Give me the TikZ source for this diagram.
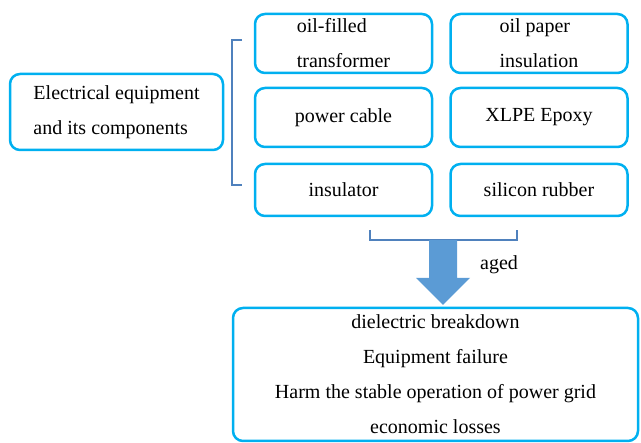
\documentclass[tikz,border=0pt]{standalone}
\usepackage{fontspec}
\setmainfont{Liberation Serif}
\definecolor{boxblue}{RGB}{0,176,240}
\definecolor{brackblue}{RGB}{79,129,189}
\definecolor{arrowblue}{RGB}{91,155,213}
\tikzset{
    itembox/.style={draw=boxblue, line width=2.5pt, rounded corners=10pt, inner sep=1pt,
        minimum width=177pt, font=\fontsize{20}{35}\selectfont},
    bracket/.style={draw=brackblue, line width=1.6pt}
}
\begin{document}
\begin{tikzpicture}[x=1pt,y=-1pt]
        \useasboundingbox (0,0) rectangle (641,443);
        \node[itembox, minimum width=213pt, minimum height=76pt, align=left] (equip) at (116.5,112) {Electrical equipment\\and its components};
        %colonna sinistra
        \node[itembox, minimum height=59pt, align=left] (oiltrans) at (343.5,43.5) {oil-filled\\transformer};
        \node[itembox, minimum height=59pt] (cable) at (343.5,117.5) {power cable};
        \node[itembox, minimum height=52pt] (insul) at (343.5,190) {insulator};
        %colonna destra
        \node[itembox, minimum height=59pt, align=left] (oilpaper) at (539,43.5) {oil paper\\insulation};
        \node[itembox, minimum height=59pt] (xlpe) at (539,117.5) {XLPE Epoxy};
        \node[itembox, minimum height=52pt] (silicone) at (539,190) {silicon rubber};
        %parentesi
        \draw[bracket] (242,40) -- (232,40) -- (232,185) -- (242,185);
        \draw[bracket] (370,230) -- (370,240) -- (517,240) -- (517,230);
        %freccia
        \fill[arrowblue] (429,240) -- (457,240) -- (457,278) -- (470,278) -- (443,305)
            -- (416,278) -- (429,278) -- cycle;
        \node[font=\fontsize{20}{24}\selectfont] (aged) at (499,265) {aged};
        \node[itembox, minimum width=405pt, minimum height=133pt, align=center] (effects) at (435.5,374.5)
            {dielectric breakdown\\Equipment failure\\Harm the stable operation of power grid\\economic losses};
    \end{tikzpicture}
\end{document}
